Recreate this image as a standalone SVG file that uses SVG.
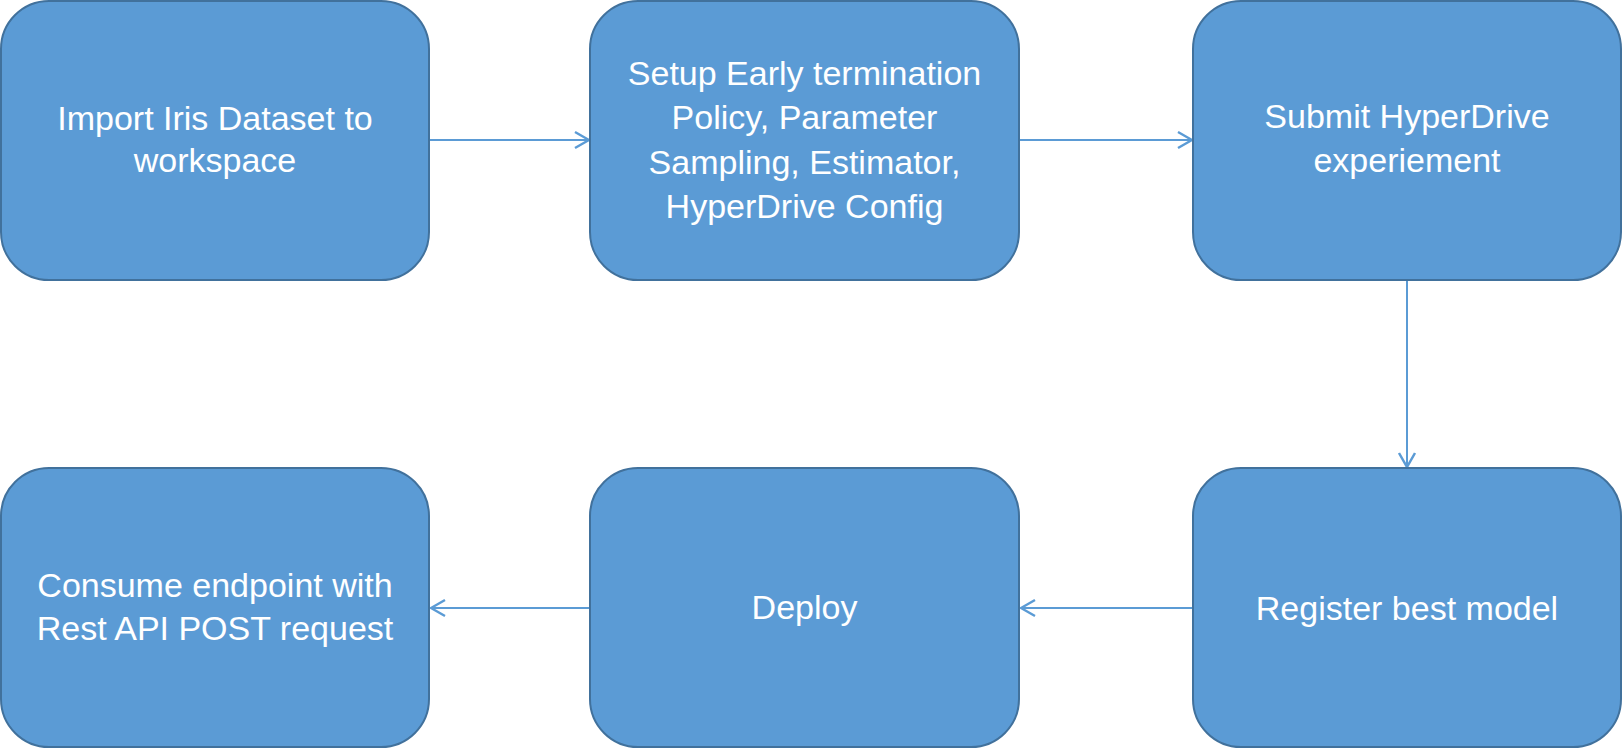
<svg xmlns="http://www.w3.org/2000/svg" width="1623" height="749" viewBox="0 0 1623 749">
<style>
.box{fill:#5B9BD5;stroke:#41719C;stroke-width:2}
.lbl{fill:#FFFFFF;font-family:"Liberation Sans",Arial,sans-serif;font-size:34px;text-anchor:middle}
.conn{fill:none;stroke:#5B9BD5;stroke-width:2}
</style>
<defs>
<marker id="arr" viewBox="0 0 16 20" refX="15" refY="10" markerWidth="16" markerHeight="20" markerUnits="userSpaceOnUse" orient="auto">
<path d="M1,2 L15,10 L1,18" fill="none" stroke="#5B9BD5" stroke-width="2.5"/>
</marker>
</defs>
<g id="connectors">
<line class="conn" x1="430" y1="140" x2="589" y2="140" marker-end="url(#arr)"/>
<line class="conn" x1="1020" y1="140" x2="1192" y2="140" marker-end="url(#arr)"/>
<line class="conn" x1="1407" y1="281" x2="1407" y2="467" marker-end="url(#arr)"/>
<line class="conn" x1="1193" y1="608" x2="1021" y2="608" marker-end="url(#arr)"/>
<line class="conn" x1="590" y1="608" x2="431" y2="608" marker-end="url(#arr)"/>
</g>
<g id="n1">
<rect class="box" x="1" y="1" width="428" height="279" rx="48" ry="48"/>
<text class="lbl" x="215" y="130">Import Iris Dataset to</text>
<text class="lbl" x="215" y="172">workspace</text>
</g>
<g id="n2">
<rect class="box" x="590" y="1" width="429" height="279" rx="48" ry="48"/>
<text class="lbl" x="804.5" y="85">Setup Early termination</text>
<text class="lbl" x="804.5" y="129">Policy, Parameter</text>
<text class="lbl" x="804.5" y="174">Sampling, Estimator,</text>
<text class="lbl" x="804.5" y="218">HyperDrive Config</text>
</g>
<g id="n3">
<rect class="box" x="1193" y="1" width="428" height="279" rx="48" ry="48"/>
<text class="lbl" x="1407" y="128">Submit HyperDrive</text>
<text class="lbl" x="1407" y="172">experiement</text>
</g>
<g id="n4">
<rect class="box" x="1" y="468" width="428" height="279" rx="48" ry="48"/>
<text class="lbl" x="215" y="597">Consume endpoint with</text>
<text class="lbl" x="215" y="640">Rest API POST request</text>
</g>
<g id="n5">
<rect class="box" x="590" y="468" width="429" height="279" rx="48" ry="48"/>
<text class="lbl" x="804.5" y="619">Deploy</text>
</g>
<g id="n6">
<rect class="box" x="1193" y="468" width="428" height="279" rx="48" ry="48"/>
<text class="lbl" x="1407" y="620">Register best model</text>
</g>
</svg>
